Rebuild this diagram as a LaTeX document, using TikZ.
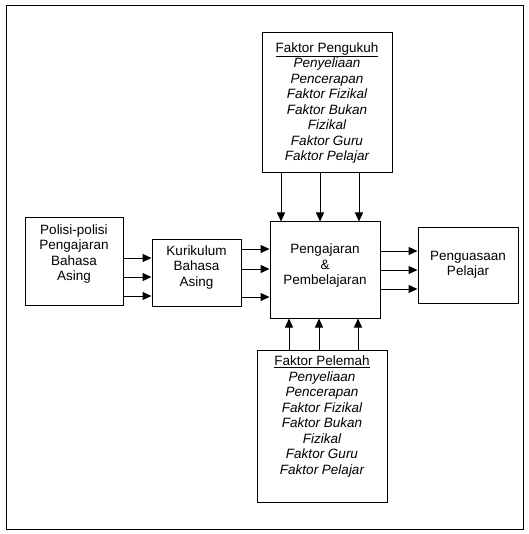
\documentclass[tikz,border=0pt]{standalone}
\usepackage{fontspec}
\setmainfont{Liberation Sans}
\usetikzlibrary{arrows.meta}
\tikzset{
  box/.style={draw=black, line width=1pt, align=center, inner sep=0pt,
    font=\fontsize{13.5}{15.5}\selectfont},
  arr/.style={line width=1pt, -{Triangle[length=9pt,width=8pt]}}
}
\begin{document}
\begin{tikzpicture}[x=1pt,y=-1pt]
    \useasboundingbox (0,0) rectangle (528,534);
    \node[draw=black, line width=1pt, minimum width=517pt, minimum height=523pt] (frame) at (264.5,267.5) {};
    
    \node[box, minimum width=98pt, minimum height=87pt] (pol) at (74,261.5) {Polisi-polisi\\Pengajaran\\Bahasa\\Asing\\[2pt]\mbox{}};
    \node[box, minimum width=89pt, minimum height=67pt] (kur) at (196.5,272.5) {Kurikulum\\Bahasa\\Asing\\[-2pt]\mbox{}};
    \node[box, minimum width=110pt, minimum height=96pt] (ajar) at (325,270) {Pengajaran\\\&\\Pembelajaran\\[-4pt]\mbox{}};
    \node[box, minimum width=100pt, minimum height=76pt] (kuasa) at (468,265) {Penguasaan\\Pelajar};
    
    \node[box, minimum width=130pt, minimum height=140pt] (kukuh) at (327,103) {\underline{Faktor Pengukuh}\\\itshape Penyeliaan\\\itshape Pencerapan\\\itshape Faktor Fizikal\\\itshape Faktor Bukan\\\itshape Fizikal\\\itshape Faktor Guru\\\itshape Faktor Pelajar};
    \node[box, minimum width=130pt, minimum height=152pt] (lemah) at (322,426) {\underline{Faktor Pelemah}\\\itshape Penyeliaan\\\itshape Pencerapan\\\itshape Faktor Fizikal\\\itshape Faktor Bukan\\\itshape Fizikal\\\itshape Faktor Guru\\\itshape Faktor Pelajar\\[6pt]\mbox{}};
    
    %\draw (pol) -- (kur);
    
    \foreach \y in {258,277,296}
        \draw[arr] (pol.east |- 0,\y) -- (kur.west |- 0,\y);
    \foreach \y in {249,269,297}
        \draw[arr] (kur.east |- 0,\y) -- (ajar.west |- 0,\y);
    \foreach \y in {251,270,289}
        \draw[arr] (ajar.east |- 0,\y) -- (kuasa.west |- 0,\y);
    \foreach \x in {281,320,359}
        \draw[arr] (kukuh.south -| \x,0) -- (ajar.north -| \x,0);
    \foreach \x in {289,319,358}
        \draw[arr] (lemah.north -| \x,0) -- (ajar.south -| \x,0);
\end{tikzpicture}
\end{document}
